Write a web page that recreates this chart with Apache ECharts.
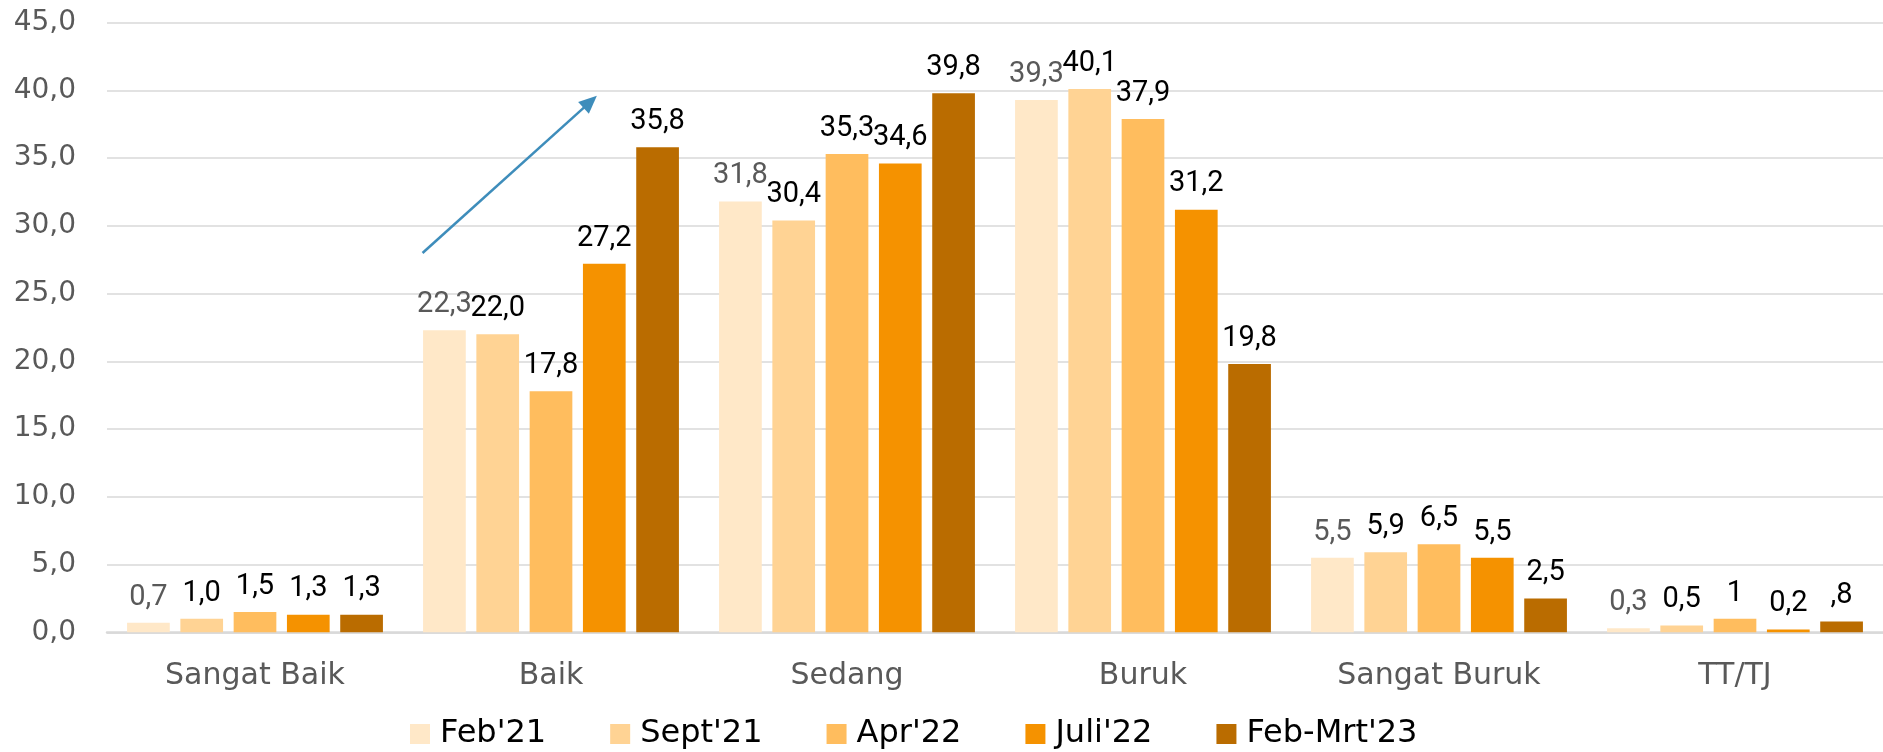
<!DOCTYPE html>
<html>
<head>
<meta charset="utf-8">
<script src="https://cdn.jsdelivr.net/npm/echarts@6/dist/echarts.min.js"></script>
<style>
html,body{margin:0;padding:0;background:#fff;}
#c{width:1883px;height:752px;}
</style>
</head>
<body>
<div id="c"></div>
<script>
const categories = ['Sangat Baik', 'Baik', 'Sedang', 'Buruk', 'Sangat Buruk', 'TT/TJ'];
const seriesNames = ["Feb'21", "Sept'21", "Apr'22", "Juli'22", "Feb-Mrt'23"];
const feb21 = [0.7, 22.3, 31.8, 39.3, 5.5, 0.3];
const sept21 = [1.0, 22.0, 30.4, 40.1, 5.9, 0.5];
const apr22 = [1.5, 17.8, 35.3, 37.9, 6.5, 1];
const juli22 = [1.3, 27.2, 34.6, 31.2, 5.5, 0.2];
const febMrt23 = [1.3, 35.8, 39.8, 19.8, 2.5, 0.8];
const colors = ['#FFE8C8', '#FFD394', '#FFBD5E', '#F59200', '#BA6C00'];
const labelColors = ['#595959', '#000000', '#000000', '#000000', '#000000'];
// labels shown differently in the source
const labelOverrides = { "Apr'22": { 5: '1' }, "Feb-Mrt'23": { 5: ',8' } };
// annotation arrow (category + fraction of category width, value)
const arrowFrom = { cat: 'Baik', off: -0.434, value: 28.0 };
const arrowTo = { cat: 'Baik', off: 0.155, value: 39.6 };

const allData = [feb21, sept21, apr22, juli22, febMrt23];
const FONT = '"DejaVu Sans", sans-serif';
const LABEL_FONT = 'Roboto, "DejaVu Sans", sans-serif';
const fmt = v => v.toFixed(1).replace('.', ',');

const chart = echarts.init(document.getElementById('c'), null, { renderer: 'canvas' });
const series = seriesNames.map((name, i) => ({
  name: name,
  type: 'bar',
  data: allData[i],
  barWidth: 42.7,
  barGap: '24.8%',
  itemStyle: { color: colors[i] },
  label: {
    show: true,
    position: 'top',
    distance: 11,
    fontFamily: LABEL_FONT,
    fontSize: 29,
    color: labelColors[i],
    formatter: p => {
      const o = labelOverrides[name];
      if (o && o[p.dataIndex] !== undefined) return o[p.dataIndex];
      return fmt(p.value);
    }
  }
}));

chart.setOption({
  animation: false,
  backgroundColor: '#ffffff',
  grid: { left: 107, top: 22.7, width: 1794, bottom: 119.7, containLabel: false },
  legend: {
    left: 405,
    top: 713,
    itemWidth: 20,
    itemHeight: 20,
    itemGap: 64,
    icon: 'rect',
    data: seriesNames,
    textStyle: { fontFamily: FONT, fontSize: 32, color: '#000', padding: [0, 0, 0, 5] }
  },
  xAxis: {
    type: 'category',
    data: categories,
    axisLine: { lineStyle: { color: '#D9D9D9', width: 2.5 } },
    axisTick: { show: false },
    axisLabel: { fontFamily: FONT, fontSize: 30, color: '#595959', margin: 29 }
  },
  yAxis: {
    type: 'value',
    min: 0,
    max: 45,
    interval: 5,
    axisLine: { show: false },
    axisTick: { show: false },
    splitLine: { lineStyle: { color: '#D9D9D9', width: 1.5 } },
    axisLabel: { fontFamily: FONT, fontSize: 28, color: '#595959', margin: 31, formatter: v => fmt(v) }
  },
  series: series
});

function pt(a) {
  const i = categories.indexOf(a.cat);
  const p0 = chart.convertToPixel({ gridIndex: 0 }, [categories[i], a.value]);
  const p1 = chart.convertToPixel({ gridIndex: 0 }, [categories[i + 1], a.value]);
  return [p0[0] + a.off * (p1[0] - p0[0]), p0[1]];
}
const s = pt(arrowFrom), e = pt(arrowTo);
const ang = Math.atan2(e[1] - s[1], e[0] - s[0]);
const headLen = 18, headHalf = 8;
const bx = e[0] - headLen * Math.cos(ang), by = e[1] - headLen * Math.sin(ang);
const nx = -Math.sin(ang), ny = Math.cos(ang);
chart.setOption({
  graphic: [
    { type: 'line', shape: { x1: s[0], y1: s[1], x2: bx + 2 * Math.cos(ang), y2: by + 2 * Math.sin(ang) },
      style: { stroke: '#3E8DBB', lineWidth: 2.5 } },
    { type: 'polygon', shape: { points: [[e[0], e[1]], [bx + nx * headHalf, by + ny * headHalf], [bx - nx * headHalf, by - ny * headHalf]] },
      style: { fill: '#3E8DBB' } }
  ]
});
</script>
</body>
</html>
